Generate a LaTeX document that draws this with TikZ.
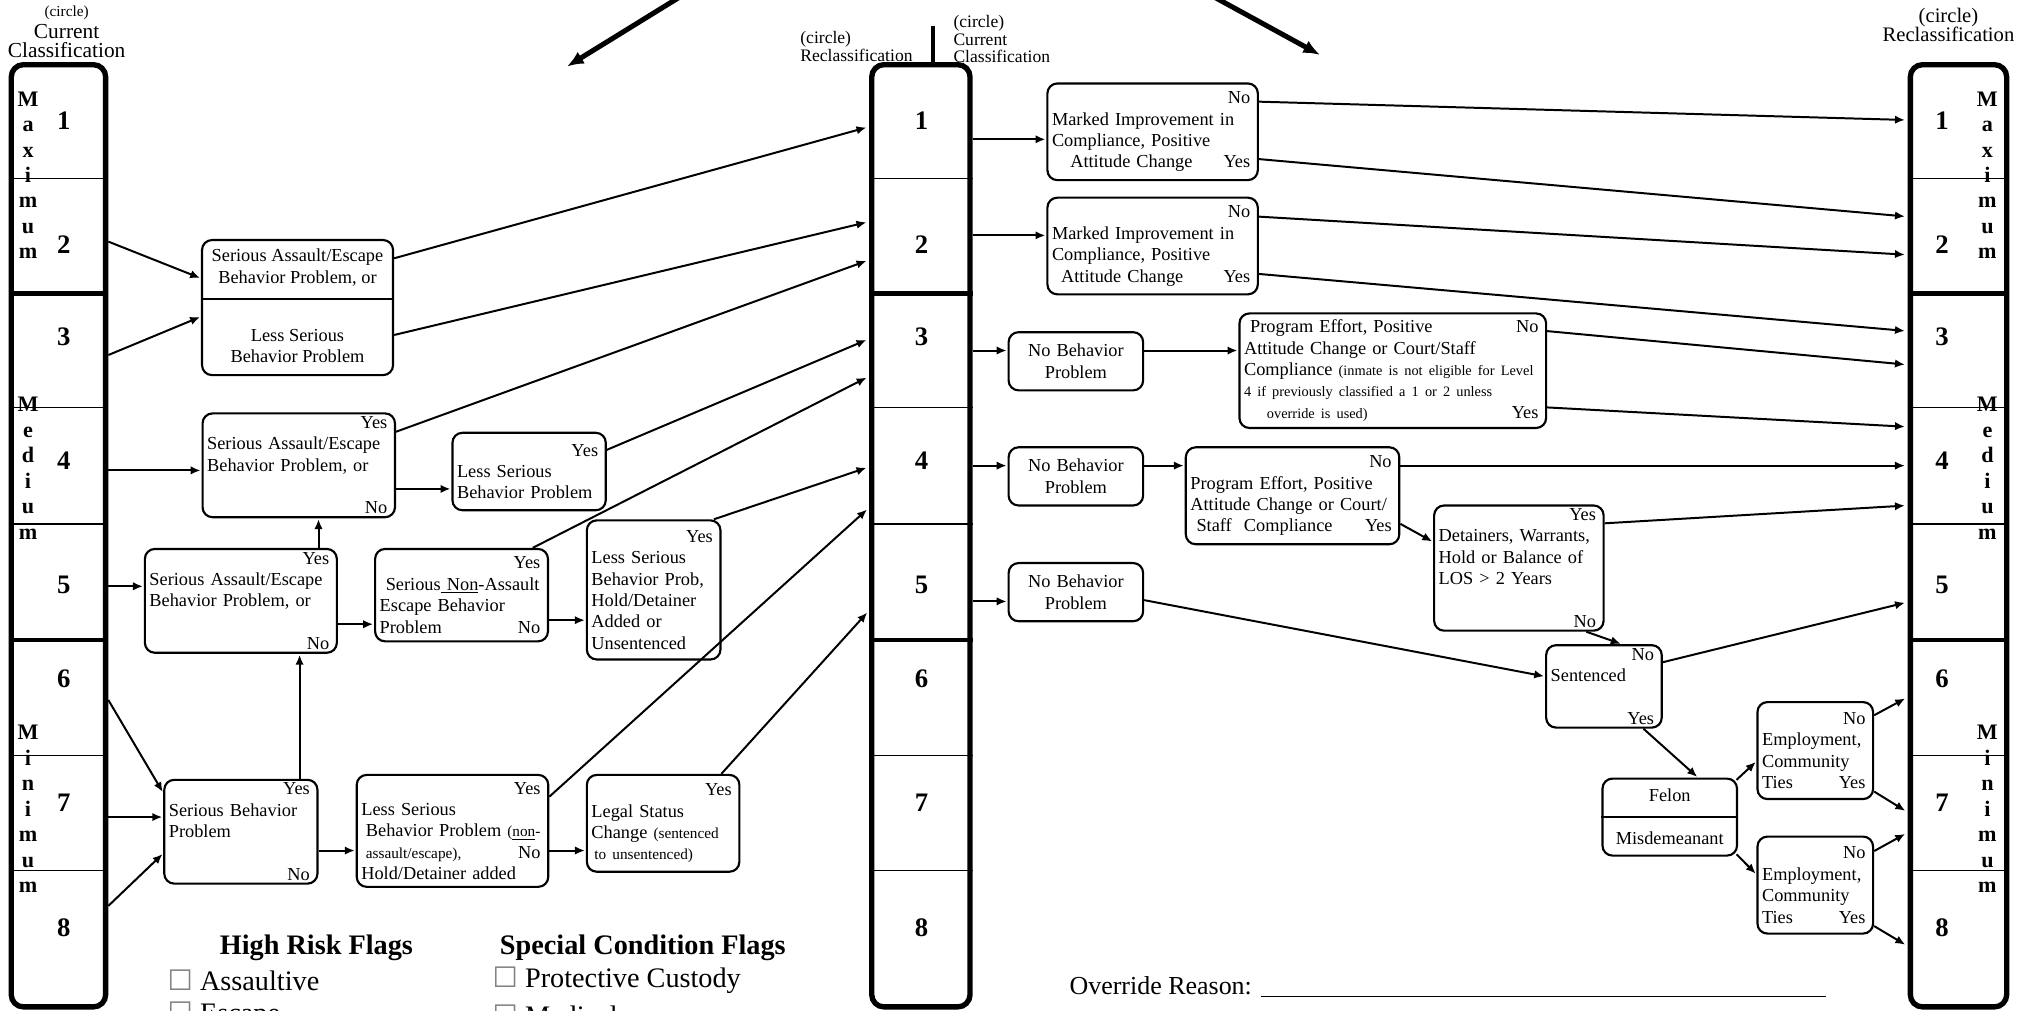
\documentclass[tikz,border=0pt]{standalone}
\usepackage{fontspec}
\setmainfont{Liberation Serif}
\newfontfamily\boxfont{DejaVu Sans}
\usetikzlibrary{arrows.meta,fit}
\newcommand{\yn}[1]{\null\hfill#1\kern2pt}
\newcommand{\sm}{\fontsize{10}{12}\selectfont}
\newcommand{\smr}{\fontsize{9.4}{12}\selectfont}
\begin{document}
\begin{tikzpicture}  % ------ Classification / reclassification flow -------
      [x={(0.847pt,0)},y={(0,-0.847pt)},
       dbox/.style={draw, rounded corners=6.5pt, line width=1.4pt, inner xsep=3pt, inner ysep=2pt,
                    anchor=north west, align=left, font=\fontsize{12}{14}\selectfont},
       ubox/.style={draw, rounded corners=6.5pt, line width=1.4pt, inner sep=0pt},
       colbox/.style={draw, rounded corners=8pt, line width=3.5pt, inner sep=0pt},
       thindiv/.style={line width=1.1pt},
       thickdiv/.style={line width=2.8pt},
       arr/.style={line width=1.3pt, -{Latex[length=6.5pt,width=5.5pt]}, shorten >=0.6pt},
       toc/.style={arr, shorten >=1.8pt},
       bigarr/.style={line width=3.3pt, -{Latex[length=11pt,width=9pt]}},
       txt/.style={align=center, inner sep=0pt, font=\fontsize{12}{14}\selectfont},
       num/.style={inner sep=0pt, font=\fontsize{17.5}{17.5}\selectfont\bfseries},
       lvl/.style={anchor=base, inner sep=0pt, font=\fontsize{14.5}{16}\selectfont\bfseries},
       flaghd/.style={inner sep=0pt, font=\fontsize{18.5}{20}\selectfont\bfseries},
       flag/.style={anchor=west, inner sep=0pt, font=\fontsize{18.5}{20}\selectfont}]

    \useasboundingbox (0,0) rectangle (1568,781);

    % the three level columns
    \node[colbox, fit={(8.7,50)(81.7,778.5)}] (cur) {};
    \node[colbox, fit={(674,50)(750,778.5)}] (mid) {};
    \node[colbox, fit={(1477,50)(1551.5,778.5)}] (rec) {};
    \foreach \col in {cur,mid,rec}{
      \foreach \y in {138,315,405,584,673} \draw[thindiv] (\col.west |- 0,\y) -- (\col.east |- 0,\y);
      \foreach \y in {227,495} \draw[thickdiv] (\col.west |- 0,\y) -- (\col.east |- 0,\y);
    }
    \foreach \n/\y in {1/93,2/189,3/260,4/356,5/452,6/525,7/621,8/717}{
      \node[num] (cn\n) at (49.3,\y) {\n};
      \node[num] (mn\n) at (712.5,\y) {\n};
      \node[num] (rn\n) at (1501.6,\y) {\n};
    }
    \foreach \l [count=\i] in {M,a,x,i,m,u,m}{
      \node[lvl] (cmx\i) at (21.7,82+19.7*\i-19.7) {\l};
      \node[lvl] (rmx\i) at (1536.6,82+19.7*\i-19.7) {\l};
    }
    \foreach \l [count=\i] in {M,e,d,i,u,m}{
      \node[lvl] (cmd\i) at (21.7,318.5+19.7*\i-19.7) {\l};
      \node[lvl] (rmd\i) at (1536.6,318.5+19.7*\i-19.7) {\l};
    }
    \foreach \l [count=\i] in {M,i,n,i,m,u,m}{
      \node[lvl] (cmn\i) at (21.7,572+19.7*\i-19.7) {\l};
      \node[lvl] (rmn\i) at (1536.6,572+19.7*\i-19.7) {\l};
    }

    % headings
    \node[inner sep=0pt, font=\fontsize{10}{12}\selectfont] (hc1) at (51.5,10.3) {(circle)};
    \node[txt, font=\fontsize{14}{12.9}\selectfont] (hc2) at (51.5,31.6) {Current\\Classification};
    \node[inner sep=0pt, anchor=west, align=left, font=\fontsize{11.5}{11.4}\selectfont] (hm1) at (618.6,35.8) {(circle)\\Reclassification};
    \node[inner sep=0pt, anchor=west, align=left, font=\fontsize{11.5}{11.3}\selectfont] (hm2) at (737,30.2) {(circle)\\Current\\Classification};
    \node[txt, font=\fontsize{13.5}{13}\selectfont] (hr1) at (1506.5,19.3) {(circle)\\Reclassification};
    \coordinate (tick) at (721,20);
    \draw[line width=2.6pt] (tick) -- (tick |- mid.north);
    \coordinate (tlA) at (538,-10);  \coordinate (tlB) at (438.3,51.5);
    \coordinate (trA) at (924.7,-10); \coordinate (trB) at (1020.7,42.5);
    \draw[bigarr] (tlA) -- (tlB);
    \draw[bigarr] (trA) -- (trB);

    % current classification checks
    \node[ubox, fit={(156.2,185.6)(303.9,290)}] (sab) {};
    \draw[line width=1.4pt] (sab.west |- 0,231.2) -- (sab.east |- 0,231.2);
    \node[txt] (sabt) at (230,207) {Serious Assault/Escape\\Behavior Problem, or};
    \node[txt] (sabb) at (230,267.5) {Less Serious\\Behavior Problem};
    \node[dbox, text width=120pt, minimum height=63.4pt] (b4) at (155.8,318.8)
      {\yn{Yes}\\Serious Assault/Escape\\Behavior Problem, or\\\yn{No}};
    \node[dbox, text width=94.4pt, minimum height=50.7pt] (ls4) at (349,333.8)
      {\yn{Yes}\\Less Serious\\Behavior Problem};
    \node[dbox, text width=119.7pt, minimum height=63.2pt] (b5) at (111.2,423.6)
      {\yn{Yes}\\Serious Assault/Escape\\Behavior Problem, or\\\yn{No}};
    \node[dbox, text width=107.2pt, minimum height=60.5pt] (na5) at (289.2,423.6)
      {\yn{Yes}\\\hspace*{4pt}Serious\underline{\ Non}-Assault\\Escape Behavior\\Problem\yn{No}};
    \node[dbox, text width=81.5pt, minimum height=91.1pt] (hold5) at (452.9,401.5)
      {\yn{Yes}\\Less Serious\\Behavior Prob,\\Hold/Detainer\\Added or\\Unsentenced};
    \node[dbox, text width=94.3pt, minimum height=62.8pt] (b7) at (126.2,602.1)
      {\yn{Yes}\\Serious Behavior\\Problem\\\yn{No}};
    \node[dbox, text width=119.4pt, minimum height=73.3pt] (ls7) at (275,598.3)
      {\yn{Yes}\\Less Serious\\\hspace*{3pt}Behavior Problem {\sm(\underline{non}-}\\\hspace*{3pt}{\sm assault/escape),}\yn{No}\\Hold/Detainer added};
    \node[dbox, text width=93.9pt, minimum height=63.4pt] (legal7) at (452.9,598.3)
      {\yn{Yes}\\Legal Status\\Change {\sm(sentenced}\\\hspace*{2pt}{\sm to unsentenced)}};

    \draw[arr] (cur.east |- 0,186.8) -- (sab.west |- 0,215.2);
    \draw[arr] (cur.east |- 0,274.5) -- (sab.west |- 0,244.8);
    \draw[arr] (cur.east |- 0,363.7) -- (b4.west |- 0,363.7);
    \draw[arr] (cur.east |- 0,453.3) -- (b5.west |- 0,453.3);
    \draw[arr] (cur.east |- 0,541.2) -- (b7.west |- 0,613);
    \draw[arr] (cur.east |- 0,631.7) -- (b7.west |- 0,631.7);
    \draw[arr] (cur.east |- 0,700.4) -- (b7.west |- 0,659.8);
    \draw[arr] (b4.east |- 0,378) -- (ls4.west |- 0,378);
    \coordinate (b5up) at ([xshift=-12.7pt]b5.north east);
    \coordinate (b7up) at ([xshift=-12.4pt]b7.north east);
    \draw[arr] (b5up) -- (b5up |- b4.south);
    \draw[arr] (b7up) -- (b7up |- b5.south);
    \draw[arr] (b5.east |- 0,482.6) -- (na5.west |- 0,482.6);
    \draw[arr] (na5.east |- 0,479.5) -- (hold5.west |- 0,479.5);
    \draw[arr] (b7.east |- 0,657.6) -- (ls7.west |- 0,657.6);
    \draw[arr] (ls7.east |- 0,657.6) -- (legal7.west |- 0,657.6);

    \draw[toc] (sab.east |- 0,199.7) -- (mid.west |- 0,98);
    \draw[toc] (sab.east |- 0,259) -- (mid.west |- 0,171.4);
    \draw[toc] (b4.east |- 0,333.8) -- (mid.west |- 0,201);
    \draw[toc] (ls4.east |- 0,347.8) -- (mid.west |- 0,262);
    \draw[toc] ([xshift=-10.7pt]na5.north east) -- (mid.west |- 0,291);
    \draw[toc] ([xshift=-5pt]hold5.north east) -- (mid.west |- 0,361);
    \draw[toc] (ls7.east |- 0,616) -- (mid.west |- 0,392.5);
    \draw[toc] ([xshift=-12.5pt]legal7.north east) -- (mid.west |- 0,472);

    % reclassification checks
    \node[dbox, text width=131.8pt, minimum height=63.3pt] (mi1) at (809,63.7)
      {\yn{No}\\Marked Improvement in\\Compliance, Positive\\\hspace*{12pt}Attitude Change\yn{Yes}};
    \node[dbox, text width=131.8pt, minimum height=63.3pt] (mi2) at (809,152)
      {\yn{No}\\Marked Improvement in\\Compliance, Positive\\\hspace*{6pt}Attitude Change\yn{Yes}};
    \node[dbox, align=center, text width=82.1pt, minimum height=38.1pt] (nb3) at (779,256) {No Behavior\\Problem};
    \node[dbox, align=center, text width=82.1pt, minimum height=38.1pt] (nb4) at (779,345) {No Behavior\\Problem};
    \node[dbox, align=center, text width=82.1pt, minimum height=38.1pt] (nb5) at (779,434.5) {No Behavior\\Problem};
    \node[dbox, text width=194.8pt, minimum height=75pt] (pe3) at (957.5,241.5)
      {\hspace*{4pt}Program Effort, Positive\yn{No}\\Attitude Change or Court/Staff\\Compliance {\smr(inmate is not eligible for Level}\\{\smr 4 if previously classified a 1 or 2 unless}\\\hspace*{15pt}{\smr override is used)}\yn{Yes}};
    \node[dbox, text width=133.8pt, minimum height=63.5pt] (pe4) at (916,345)
      {\yn{No}\\Program Effort, Positive\\Attitude Change or Court/\\\hspace*{4pt}Staff\ \ Compliance\yn{Yes}};
    \node[dbox, text width=105pt, minimum height=75pt] (det) at (1108,390)
      {\yn{Yes}\\Detainers, Warrants,\\Hold or Balance of\\LOS > 2 Years\\\yn{No}};
    \node[dbox, text width=69.7pt, minimum height=50.8pt] (sent) at (1194.6,498)
      {\yn{No}\\Sentenced\\\yn{Yes}};
    \node[ubox, fit={(1239,602)(1343,661.5)}] (fel) {};
    \draw[line width=1.4pt] (fel.west |- 0,632) -- (fel.east |- 0,632);
    \node[txt] (felt) at (1291,615) {Felon};
    \node[txt] (felb) at (1291,648) {Misdemeanant};
    \node[dbox, text width=69.7pt, minimum height=63.5pt] (emp1) at (1358,542)
      {\yn{No}\\Employment,\\Community\\Ties\yn{Yes}};
    \node[dbox, text width=69.7pt, minimum height=63.5pt] (emp2) at (1358,646)
      {\yn{No}\\Employment,\\Community\\Ties\yn{Yes}};

    \draw[arr] (mid.east |- 0,107.7) -- (mi1.west |- 0,107.7);
    \draw[arr] (mid.east |- 0,182) -- (mi2.west |- 0,182);
    \draw[arr] (mid.east |- 0,271) -- (nb3.west |- 0,271);
    \draw[arr] (nb3.east |- 0,271) -- (pe3.west |- 0,271);
    \draw[arr] (mid.east |- 0,360) -- (nb4.west |- 0,360);
    \draw[arr] (nb4.east |- 0,360) -- (pe4.west |- 0,360);
    \draw[arr] (mid.east |- 0,465) -- (nb5.west |- 0,465);
    \draw[arr] (nb5.east |- 0,464) -- (sent.west |- 0,523);
    \draw[arr] (pe4.east |- 0,405) -- (det.west |- 0,419);
    \draw[arr] ([xshift=-12pt]det.south east) -- ([xshift=-27pt]sent.north east);
    \draw[arr] ([xshift=-12.7pt]sent.south east) -- ([xshift=-26.3pt]fel.north east);
    \draw[arr] ([xshift=-1pt,yshift=-1.5pt]fel.north east) -- (emp1.west |- 0,588.6);
    \draw[arr] ([xshift=-1pt,yshift=1.5pt]fel.south east) -- (emp2.west |- 0,676);

    \draw[toc] (mi1.east |- 0,78.6) -- (rec.west |- 0,92.8);
    \draw[toc] (mi1.east |- 0,123) -- (rec.west |- 0,167.5);
    \draw[toc] (mi2.east |- 0,167.5) -- (rec.west |- 0,197);
    \draw[toc] (mi2.east |- 0,211.8) -- (rec.west |- 0,256);
    \draw[toc] (pe3.east |- 0,256) -- (rec.west |- 0,282);
    \draw[toc] (pe3.east |- 0,315) -- (rec.west |- 0,330);
    \draw[toc] (pe4.east |- 0,360) -- (rec.west |- 0,360);
    \draw[toc] (det.east |- 0,404.6) -- (rec.west |- 0,390.8);
    \draw[toc] (sent.east |- 0,512) -- (rec.west |- 0,465.5);
    \draw[toc] (emp1.east |- 0,553) -- (rec.west |- 0,539);
    \draw[toc] (emp1.east |- 0,612) -- (rec.west |- 0,628);
    \draw[toc] (emp2.east |- 0,658) -- (rec.west |- 0,643.7);
    \draw[toc] (emp2.east |- 0,716) -- (rec.west |- 0,731.5);

    % flags and override
    \node[flaghd] (hrf) at (244.6,733) {High Risk Flags};
    \node[flaghd] (scf) at (497,733) {Special Condition Flags};
    \node[flag] (fas) at (129.4,758) {{\boxfont\color{gray}☐} Assaultive};
    \node[flag] (fpc) at (380.7,758) {{\boxfont\color{gray}☐} Protective Custody};
    \node[flag] (fes) at (129.4,785) {{\boxfont\color{gray}☐} Escape};
    \node[flag] (fmd) at (380.7,785) {{\boxfont\color{gray}☐} Medical};
    \node[anchor=west, inner sep=0pt, font=\fontsize{17}{17}\selectfont] (ovr) at (826.7,763)
      {Override Reason: \rule[-2pt]{370pt}{0.8pt}};
\end{tikzpicture}
\end{document}
